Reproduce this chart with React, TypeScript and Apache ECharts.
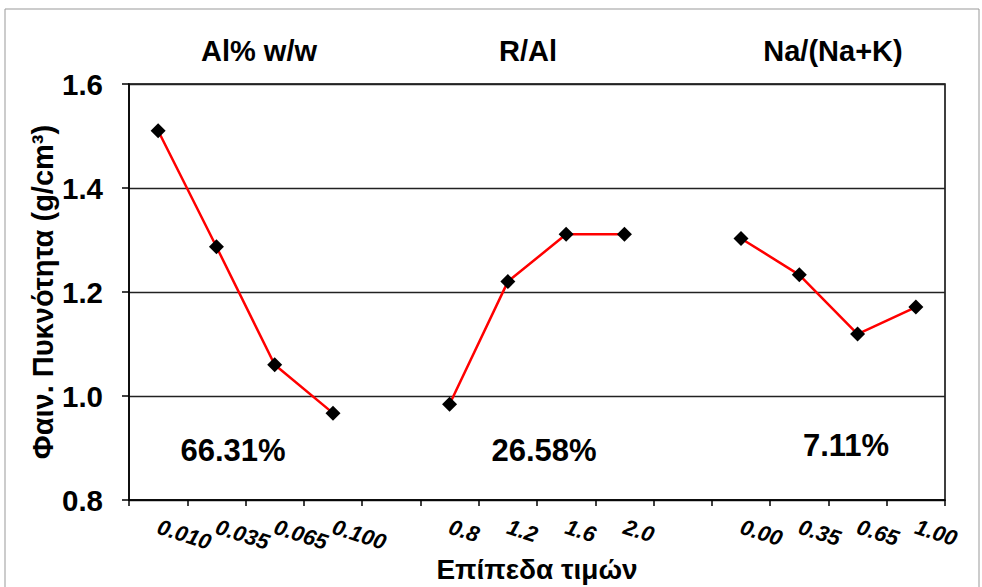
import React, { useEffect, useRef } from "react";
import * as echarts from "echarts";

const categories = ["0.010", "0.035", "0.065", "0.100", "", "0.8", "1.2", "1.6", "2.0", "", "0.00", "0.35", "0.65", "1.00"];
const alValues = [1.51, 1.287, 1.06, 0.967];
const rAlValues = [0.984, 1.22, 1.311, 1.311];
const naValues = [1.303, 1.233, 1.119, 1.171];
const groupTitles = ["Al% w/w", "R/Al", "Na/(Na+K)"];
const contributions = ["66.31%", "26.58%", "7.11%"];
const yTicks = { min: 0.8, max: 1.6, interval: 0.2 };

const FONT = "'Liberation Sans', Arial, Helvetica, sans-serif";

export default function App() {
  const ref = useRef<HTMLDivElement>(null);
  useEffect(() => {
    if (!ref.current) return;
    const chart = echarts.init(ref.current, undefined, { renderer: "svg" });
    const pad = (vals: number[], start: number) =>
      categories.map((_, i) => (i >= start && i < start + vals.length ? vals[i - start] : null));

    const gridLeft = 129, gridRight = 945, gridTop = 84, gridBottom = 500;
    const titleX = [259, 528, 833];
    const pctX = [233, 544, 846];
    const pctY = [450, 450, 445];

    const mkSeries = (name: string, vals: number[], start: number) => ({
      name,
      type: "line",
      data: pad(vals, start),
      connectNulls: false,
      symbol: "diamond",
      symbolSize: 15,
      itemStyle: { color: "#000" },
      lineStyle: { color: "#ff0000", width: 2.5 },
      z: 3,
    });

    chart.setOption({
      animation: false,
      backgroundColor: "#fff",
      grid: {
        left: gridLeft,
        right: 982 - gridRight,
        top: gridTop,
        bottom: 587 - gridBottom,
        containLabel: false,
        outerBoundsMode: "none",
        show: true,
        borderColor: "#000",
        borderWidth: 1.5,
        backgroundColor: "transparent",
      },
      xAxis: {
        type: "category",
        data: categories,
        boundaryGap: true,
        name: "Επίπεδα τιμών",
        nameLocation: "middle",
        nameGap: 55,
        nameMoveOverlap: false,
        nameTextStyle: { fontFamily: FONT, fontWeight: "bold", fontSize: 28, color: "#000" },
        axisLine: { lineStyle: { color: "#000", width: 1.5 } },
        axisTick: { show: true, interval: 0, length: 6, lineStyle: { color: "#000", width: 1.5 } },
        axisLabel: {
          interval: 0,
          rotate: -18,
          margin: 26,
          fontFamily: FONT,
          fontStyle: "italic",
          fontWeight: "bold",
          fontSize: 22,
          color: "#000",
        },
        splitLine: { show: false },
      },
      yAxis: {
        type: "value",
        min: yTicks.min,
        max: yTicks.max,
        interval: yTicks.interval,
        name: "Φαιν. Πυκνότητα (g/cm³)",
        nameLocation: "middle",
        nameGap: 72,
        nameMoveOverlap: false,
        nameTextStyle: { fontFamily: FONT, fontWeight: "bold", fontSize: 29, color: "#000" },
        axisLine: { show: true, lineStyle: { color: "#000", width: 1.5 } },
        axisTick: { show: true, length: 7, lineStyle: { color: "#000", width: 1.5 } },
        axisLabel: {
          margin: 26,
          formatter: (v: number) => v.toFixed(1),
          fontFamily: FONT,
          fontWeight: "bold",
          fontSize: 29.5,
          color: "#000",
        },
        splitLine: { show: true, lineStyle: { color: "#222", width: 1.3 } },
      },
      series: [
        mkSeries(groupTitles[0], alValues, 0),
        mkSeries(groupTitles[1], rAlValues, 5),
        mkSeries(groupTitles[2], naValues, 10),
      ],
      graphic: [
        {
          type: "rect",
          shape: { x: 5, y: 9, width: 974, height: 620 },
          style: { fill: "none", stroke: "#999", lineWidth: 1 },
          silent: true,
          z: -1,
        },
        ...groupTitles.map((t, i) => ({
          type: "text",
          x: titleX[i],
          y: 51,
          style: {
            text: t,
            fontFamily: FONT,
            fontWeight: "bold",
            fontSize: 29,
            fill: "#000",
            align: "center",
            verticalAlign: "middle",
          },
        })),
        ...contributions.map((t, i) => ({
          type: "text",
          x: pctX[i],
          y: pctY[i],
          style: {
            text: t,
            fontFamily: FONT,
            fontWeight: "bold",
            fontSize: 31,
            fill: "#000",
            align: "center",
            verticalAlign: "middle",
          },
        })),
      ],
    });
    return () => chart.dispose();
  }, []);
  return (
    <div
      ref={ref}
      style={{ position: "absolute", left: 0, top: 0, width: 982, height: 587, background: "#fff" }}
    />
  );
}
